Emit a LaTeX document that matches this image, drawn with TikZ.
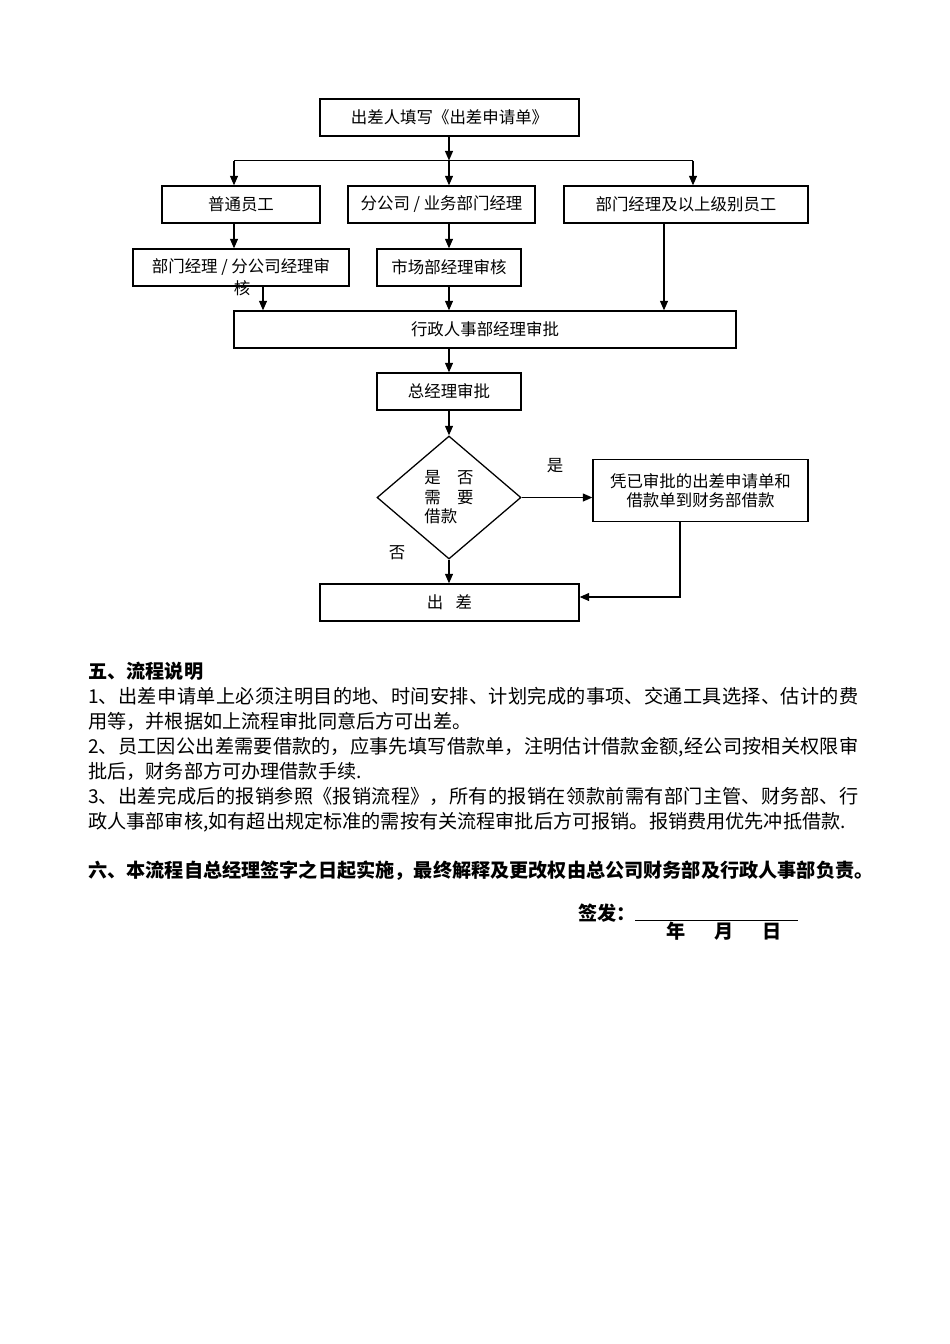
\documentclass[tikz,border=0pt]{standalone}
\usepackage{fontspec}
\setmainfont{Noto Sans CJK SC}
\usetikzlibrary{arrows.meta,shapes.geometric}
\XeTeXlinebreaklocale "zh"
\XeTeXlinebreakskip=0pt plus 1pt
\setlength{\parindent}{0pt}
\newcommand{\pxu}{0.6266pt}
\tikzset{
  pbox/.style 2 args={draw, line width=0.8pt, minimum width=#1*\pxu, minimum height=#2*\pxu,
    inner sep=1pt, align=center, font=\fontsize{10.3}{12.2}\selectfont},
  flow/.style={->, line width=0.8pt},
  tag/.style={inner sep=0pt, font=\fontsize{10.3}{12}\selectfont},
  notes/.style={anchor=north west, inner sep=0pt, text width=770*\pxu, align=justify,
    font=\fontsize{12}{15.66}\selectfont},
  bold/.style={inner sep=0pt, font=\fontsize{12}{14}\selectfont\bfseries},
  >={Triangle[length=6pt,width=5pt]}
}
\begin{document}
\begin{tikzpicture}[x=0.6266pt, y=-0.6266pt]
    \useasboundingbox (0,0) rectangle (950,1344);
    % boxes
    \node[pbox={259}{37}] (apply) at (449.5,117.5) {出差人填写《出差申请单》};
    \coordinate (bl) at (234,160.5);
    \coordinate (bm) at (449,160.5);
    \coordinate (br) at (693,160.5);
    \node[pbox={158}{37}] (staff) at (241,204.5) {普通员工};
    \node[pbox={187}{37}] (branch) at (441.5,204.5) {分公司 / 业务部门经理};
    \node[pbox={244}{37}] (senior) at (686,204.5) {部门经理及以上级别员工};
    \node[pbox={216}{37}] (deptchk) at (241,267.5) {部门经理 / 分公司经理审};
    \node[tag] (deptchkb) at (242,288) {核};
    \node[pbox={144}{37}] (mktchk) at (449,267.5) {市场部经理审核};
    \node[pbox={502}{37}] (hr) at (485,329.5) {行政人事部经理审批};
    \node[pbox={144}{37}] (gm) at (449,391.5) {总经理审批};
    \node[draw, diamond, line width=0.8pt, minimum width=144*\pxu, minimum height=123*\pxu,
      inner sep=0pt, align=left, font=\fontsize{10.3}{12.2}\selectfont] (loan) at (449,497.5) {是　否\\需　要\\借款};
    \node[pbox={215}{62}] (borrow) at (700.5,490.5) {凭已审批的出差申请单和\\借款单到财务部借款};
    \node[pbox={259}{37}] (trip) at (449.5,602.5) {出\hspace{.75em}差};
    \node[tag] (yes) at (555,466) {是};
    \node[tag] (no) at (397,553) {否};
    \coordinate (dx) at (263,300);
    \coordinate (sx) at (664,300);
    \coordinate (bx) at (680,597);
    % arrows
    \draw[flow] (apply.south -| bm) -- (bm);
    \draw[line width=0.8pt] (bl) -- (br);
    \draw[flow] (bl) -- (bl |- staff.north);
    \draw[flow] (bm) -- (bm |- branch.north);
    \draw[flow] (br) -- (br |- senior.north);
    \draw[flow] (staff.south -| bl) -- (bl |- deptchk.north);
    \draw[flow] (branch.south -| bm) -- (mktchk.north);
    \draw[flow] (deptchk.south -| dx) -- (hr.north -| dx);
    \draw[flow] (mktchk.south) -- (hr.north -| mktchk);
    \draw[flow] (senior.south -| sx) -- (hr.north -| sx);
    \draw[flow] (hr.south -| gm) -- (gm.north);
    \draw[flow] (gm.south) -- (loan.north);
    \draw[flow] (loan.east) -- (borrow.west |- loan.east);
    \draw[flow] (loan.south) -- (trip.north -| loan.south);
    \draw[flow] (borrow.south -| bx) -- (bx) -- (trip.east |- bx);
    % text
    \node[notes] (notes) at (88,662) {{\bfseries 五、流程说明}\\
      1、出差申请单上必须注明目的地、时间安排、计划完成的事项、交通工具选择、估计的费\linebreak
      用等，并根据如上流程审批同意后方可出差。\\
      2、员工因公出差需要借款的，应事先填写借款单，注明估计借款金额,经公司按相关权限审\linebreak
      批后，财务部方可办理借款手续.\\
      3、出差完成后的报销参照《报销流程》，所有的报销在领款前需有部门主管、财务部、行\linebreak
      政人事部审核,如有超出规定标准的需按有关流程审批后方可报销。报销费用优先冲抵借款.};
    \node[bold, anchor=west] (rule) at (88,871) {六、本流程自总经理签字之日起实施，最终解释及更改权由总公司财务部及行政人事部负责。};
    \node[bold, anchor=west] (sign) at (578,913) {签发：};
    \draw[line width=0.6pt] (635,920.5) -- (798,920.5);
    \node[bold] (date) at (724,931) {年\hspace{1.5em}月\hspace{1.5em}日};
\end{tikzpicture}
\end{document}
